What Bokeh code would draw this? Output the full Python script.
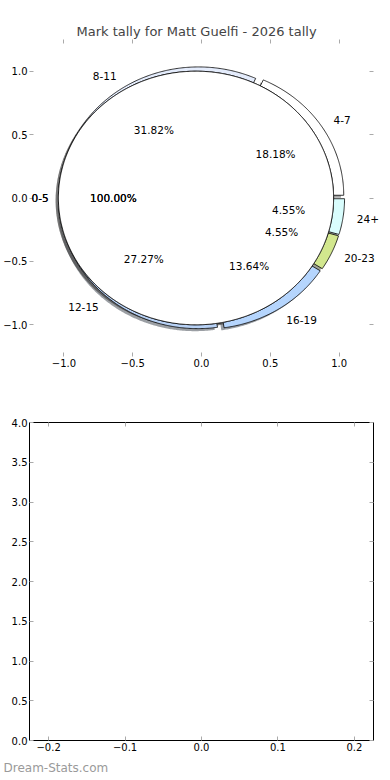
import numpy as np
from bokeh.plotting import figure
from bokeh.layouts import column
from bokeh.models import (ColumnDataSource, FixedTicker, LinearAxis, Range1d, Title,
                          LabelSet)
from bokeh.embed import file_html
from bokeh.resources import INLINE
from bokeh.core.properties import value, field

# ---------------- data ----------------
title_text = "Mark tally for Matt Guelfi - 2026 tally"
ring_labels = ["4-7", "8-11", "12-15", "16-19", "20-23", "24+"]
ring_counts = [4, 7, 6, 3, 1, 1]
ring_colors = ["#ffffff", "#e4ecfc", "#b8d2f6", "#b5d5fd", "#d2e78e", "#d9fdfd"]
base_labels = ["0-5"]
base_counts = [1]
base_colors = ["#ffffff"]
explode = 0.04
pie_limit = 1.25

pie_ticks = [-1.0, -0.5, 0.0, 0.5, 1.0]
pie_tick_labels = ["\u22121.0", "\u22120.5", "0.0", "0.5", "1.0"]
lower_x_ticks = [-0.2, -0.1, 0.0, 0.1, 0.2]
lower_x_labels = ["\u22120.2", "\u22120.1", "0.0", "0.1", "0.2"]
lower_y_ticks = [0.0, 0.5, 1.0, 1.5, 2.0, 2.5, 3.0, 3.5, 4.0]
lower_y_labels = ["0.0", "0.5", "1.0", "1.5", "2.0", "2.5", "3.0", "3.5", "4.0"]
footer_text = "Dream-Stats.com"

FONT = "DejaVu Sans"
TICK_GRAY = "#aaaaaa"
WIDTH = 390
LEFT = 27          # pixel where the axes box starts
BOX_W = 344        # width of the axes box
RIGHT = WIDTH - LEFT - BOX_W
PIE_FRAME_W = 360  # drawing area of the pie reaches past the box (labels unclipped)
TITLE_OFFSET = 47  # title start, measured from the box's left edge


def pie_geometry(labels, counts, colors, expl):
    total = float(sum(counts))
    t1 = 0.0
    out = dict(xs=[], ys=[], sxs=[], sys=[], color=[], shadow=[],
               lx=[], ly=[], lab=[], align=[], px=[], py=[], pct=[])
    for lab, c, col in zip(labels, counts, colors):
        frac = c / total
        t2 = t1 + 360.0 * frac
        mid = np.deg2rad((t1 + t2) / 2.0)
        cx, cy = expl * np.cos(mid), expl * np.sin(mid)
        ang = np.deg2rad(np.linspace(t1, t2, max(3, int(t2 - t1) * 2 + 2)))
        ax = cx + np.cos(ang)
        ay = cy + np.sin(ang)
        if t2 - t1 >= 359.999:
            xs, ys = list(ax), list(ay)
        else:
            xs = [cx] + list(ax) + [cx]
            ys = [cy] + list(ay) + [cy]
        out["xs"].append(xs)
        out["ys"].append(ys)
        out["sxs"].append([v - 0.02 for v in xs])
        out["sys"].append([v - 0.02 for v in ys])
        out["color"].append(col)
        h = col.lstrip("#")
        rgb = [int(h[i:i + 2], 16) for i in (0, 2, 4)]
        out["shadow"].append("#%02x%02x%02x" % tuple(int(0.3 * v) for v in rgb))
        lx = cx + 1.1 * np.cos(mid)
        ly = cy + 1.1 * np.sin(mid)
        out["lx"].append(lx)
        out["ly"].append(ly)
        out["lab"].append(lab)
        out["align"].append("left" if lx > 0 else "right")
        out["px"].append(cx + 0.6 * np.cos(mid))
        out["py"].append(cy + 0.6 * np.sin(mid))
        out["pct"].append("%.2f%%" % (100.0 * frac))
        t1 = t2
    return out


ring = pie_geometry(ring_labels, ring_counts, ring_colors, explode)
base = pie_geometry(base_labels, base_counts, base_colors, explode)


def style_axis(ax, ticks, labels, show_labels=True):
    ax.ticker = FixedTicker(ticks=ticks)
    ax.axis_line_color = None
    ax.major_tick_in = 4
    ax.major_tick_out = 0
    ax.major_tick_line_color = TICK_GRAY
    ax.major_tick_line_width = 1
    ax.minor_tick_line_color = None
    ax.major_label_text_font = FONT
    if show_labels:
        ax.major_label_overrides = {t: l for t, l in zip(ticks, labels)}
        ax.major_label_text_color = "black"
        ax.major_label_text_font_size = "10px"
        ax.major_label_standoff = 2
    else:
        ax.major_label_text_color = None
        ax.major_label_text_font_size = "1px"
        ax.major_label_standoff = 0


# ---------------- top: pie ----------------
ppu = BOX_W / (2 * pie_limit)
x_hi = -pie_limit + PIE_FRAME_W / ppu

p1 = figure(frame_width=PIE_FRAME_W, frame_height=317,
            x_range=Range1d(-pie_limit, x_hi), y_range=Range1d(-pie_limit, pie_limit),
            min_border_left=LEFT, min_border_right=0,
            min_border_top=39, min_border_bottom=24,
            output_backend="svg", toolbar_location=None,
            title=title_text)
p1.title.align = "left"
p1.title.offset = TITLE_OFFSET
p1.title.text_font = FONT
p1.title.text_font_size = "13px"
p1.title.text_font_style = "normal"
p1.title.standoff = 2
p1.outline_line_color = None
p1.grid.visible = False

style_axis(p1.xaxis[0], pie_ticks, pie_tick_labels)
style_axis(p1.yaxis[0], pie_ticks, pie_tick_labels)
top_ax = LinearAxis()
right_ax = LinearAxis(fixed_location=pie_limit)
style_axis(top_ax, pie_ticks, pie_tick_labels, show_labels=False)
style_axis(right_ax, pie_ticks, pie_tick_labels, show_labels=False)
p1.add_layout(top_ax, "above")
p1.add_layout(right_ax, "right")

ring_src = ColumnDataSource(ring)
base_src = ColumnDataSource(base)

# shadows (below all wedges)
p1.patches("sxs", "sys", source=ring_src, fill_color="shadow", fill_alpha=0.5,
           line_color=None)
for _ in range(2):
    p1.patches("sxs", "sys", source=base_src, fill_color="shadow", fill_alpha=0.5,
               line_color=None)
# wedges
p1.patches("xs", "ys", source=ring_src, fill_color="color", line_color="black",
           line_width=0.8)
for _ in range(2):
    p1.patches("xs", "ys", source=base_src, fill_color="color", line_color="black",
               line_width=0.8)

# labels
for src, n, nudge in ((ring_src, 1, 0), (base_src, 2, 4)):
    for _ in range(n):
        p1.add_layout(LabelSet(x="lx", y="ly", text="lab", source=src,
                               text_align=field("align"), text_baseline="middle",
                               text_font=value(FONT), text_font_size="10.5px",
                               text_color="black", x_offset=nudge))
        p1.add_layout(LabelSet(x="px", y="py", text="pct", source=src,
                               text_align="center", text_baseline="middle",
                               text_font=value(FONT), text_font_size="10.5px",
                               text_color="black"))

# ---------------- bottom: empty axes ----------------
p2 = figure(frame_width=BOX_W, frame_height=318,
            x_range=Range1d(-0.225, 0.225), y_range=Range1d(0, 4),
            min_border_left=LEFT, min_border_right=RIGHT,
            min_border_top=42, min_border_bottom=34,
            output_backend="svg", toolbar_location=None)
p2.outline_line_color = "black"
p2.outline_line_width = 1
p2.grid.visible = False
style_axis(p2.xaxis[0], lower_x_ticks, lower_x_labels)
style_axis(p2.yaxis[0], lower_y_ticks, lower_y_labels)
top2 = LinearAxis()
right2 = LinearAxis()
style_axis(top2, lower_x_ticks, lower_x_labels, show_labels=False)
style_axis(right2, lower_y_ticks, lower_y_labels, show_labels=False)
p2.add_layout(top2, "above")
p2.add_layout(right2, "right")

foot = Title(text=footer_text, align="left", text_color="#9a9a9a",
             text_font=FONT, text_font_size="12px", text_font_style="normal",
             offset=-(LEFT - 1), standoff=10)
p2.add_layout(foot, "below")

layout = column(p1, p2, spacing=0)

open("out.html", "w").write(file_html(layout, INLINE))
